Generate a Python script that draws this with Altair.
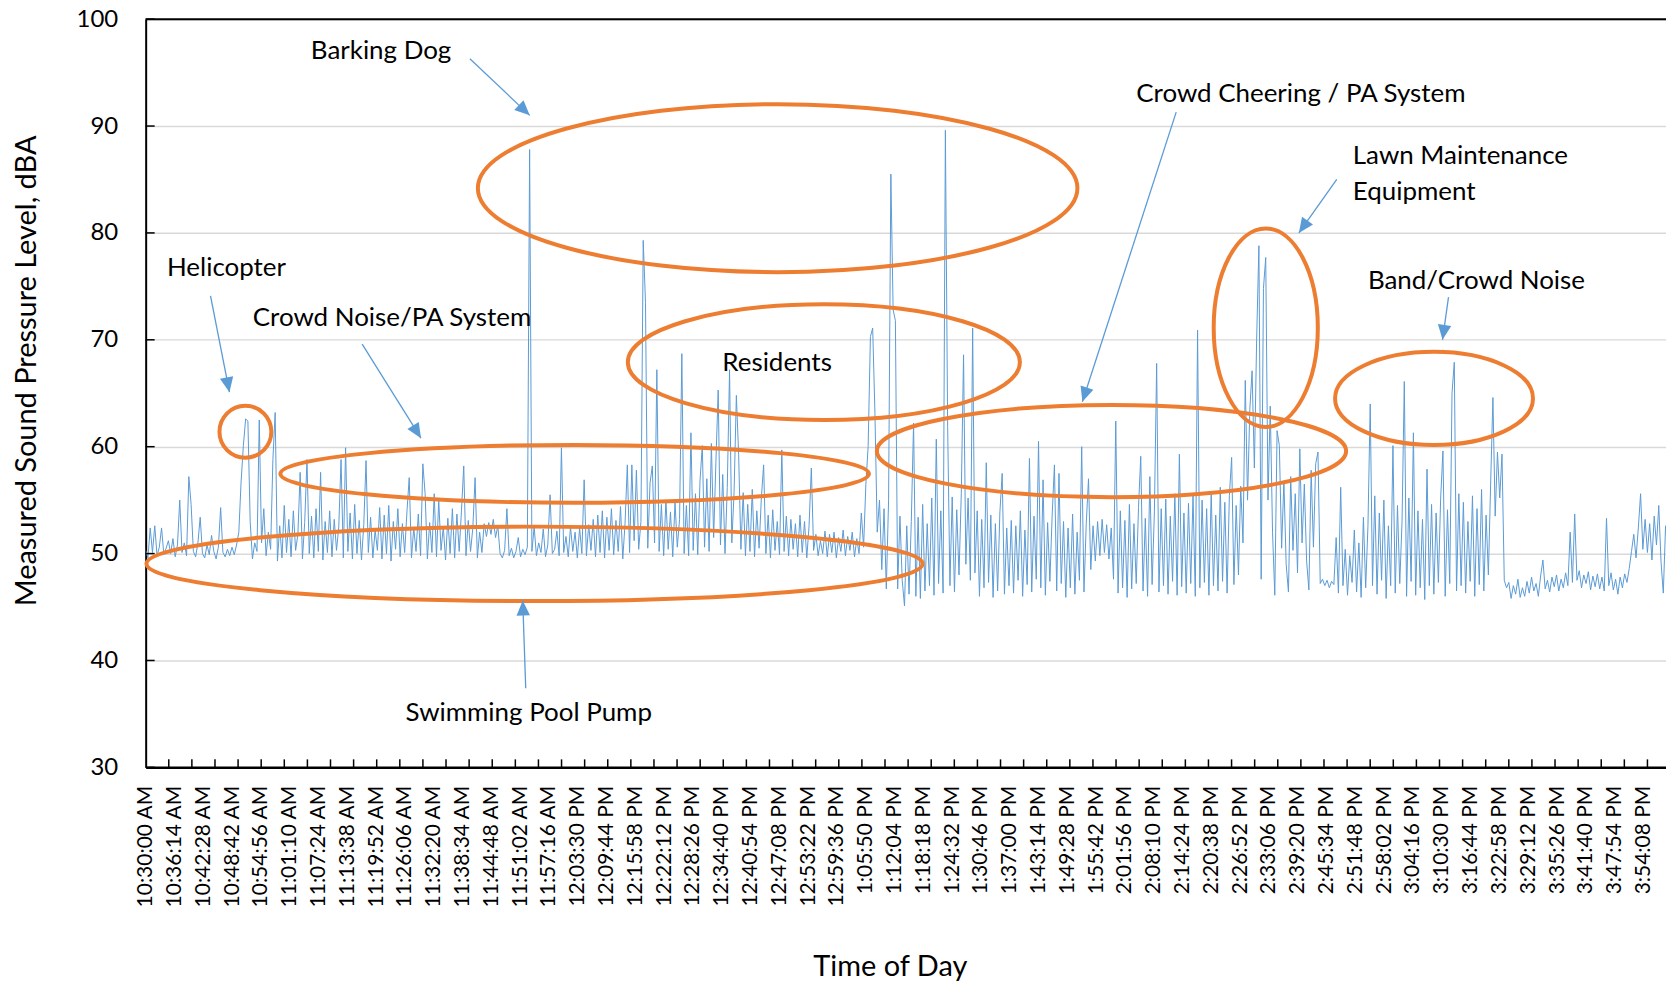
import math
import altair as alt
import pandas as pd

# ---------------- data: one reading every ~30 s, starting 10:30:00 AM ----------------
SAMPLE_STEP_S = 29.5
b1030 = [50.3, 49.6, 52.4, 50.1, 52.6, 49.8, 50.6, 52.4, 49.9, 50.5, 51.2, 50.0, 51.4, 49.7, 50.8, 55.0, 50.1, 51.0, 49.8, 57.2]
b1040 = [54.6, 50.2, 49.7, 51.0, 53.4, 50.0, 49.6, 50.8, 49.9, 51.7, 50.2, 49.5, 50.6, 54.3, 50.1, 49.7, 50.4, 49.8, 50.6, 49.9]
b1050 = [50.8, 52.0, 56.7, 60.1, 62.6, 62.4, 53.0, 49.5, 51.0, 50.2, 62.5, 51.0, 54.2, 49.8, 52.0, 50.4, 58.8, 63.2, 49.3, 52.6]
b1100 = [49.6, 54.5, 50.1, 53.2, 49.7, 54.0, 50.3, 51.8, 57.6, 49.5, 52.9, 58.8, 50.0, 53.5, 49.6, 54.2, 50.2, 57.6, 49.4, 53.0]
b1110 = [50.1, 54.0, 49.7, 53.2, 50.3, 52.5, 58.8, 49.6, 59.9, 50.2, 53.8, 49.5, 54.6, 50.0, 53.1, 49.4, 52.7, 58.7, 50.1, 53.4]
b1120 = [49.6, 52.2, 50.3, 54.3, 49.5, 53.6, 50.0, 54.5, 49.3, 53.0, 50.4, 54.2, 49.7, 52.8, 50.1, 53.9, 57.1, 49.6, 52.4, 50.2]
b1130 = [53.7, 49.8, 58.4, 55.6, 49.5, 52.9, 50.1, 55.6, 49.7, 55.0, 50.3, 52.5, 49.4, 53.3, 50.0, 54.2, 49.6, 53.7, 50.2, 54.0]
b1140 = [58.2, 49.8, 53.1, 50.2, 52.4, 57.1, 49.6, 52.0, 50.1, 52.8, 51.6, 52.9, 51.8, 53.2, 51.5, 52.6, 50.0, 49.6, 50.3, 54.2]
b1150 = [49.8, 50.5, 49.6, 50.2, 51.5, 49.7, 50.4, 49.9, 50.6, 87.8, 50.2, 52.5, 49.8, 51.0, 50.1, 52.3, 49.7, 50.8, 55.5, 50.0]
b1200 = [50.4, 52.1, 49.8, 59.9, 50.1, 51.6, 49.7, 52.5, 50.2, 52.0, 49.6, 52.4, 50.0, 56.9, 49.8, 52.7, 50.3, 53.2, 49.7, 53.6]
b1210 = [50.1, 54.0, 49.6, 53.4, 50.3, 54.2, 49.9, 53.1, 50.2, 54.4, 49.5, 52.8, 58.3, 50.1, 58.3, 51.2, 57.8, 50.4, 53.0, 79.3]
b1220 = [73.5, 50.5, 56.6, 58.2, 51.0, 67.2, 50.2, 54.6, 49.8, 55.0, 50.4, 53.9, 49.7, 54.8, 50.6, 53.2, 68.7, 50.0, 54.5, 49.8]
b1230 = [61.3, 50.3, 55.6, 49.9, 56.8, 60.1, 50.6, 57.0, 50.2, 60.3, 51.5, 58.6, 65.3, 50.8, 57.4, 50.0, 56.2, 67.2, 51.0, 55.8]
b1240 = [64.8, 59.3, 50.4, 55.7, 49.8, 54.6, 50.2, 56.0, 49.7, 54.0, 50.5, 55.2, 58.3, 50.0, 53.6, 49.6, 54.1, 50.3, 53.0, 49.9]
b1250 = [59.7, 50.2, 53.5, 49.8, 53.2, 50.4, 52.8, 49.7, 53.6, 50.1, 53.0, 49.6, 52.6, 58.0, 50.3, 51.8, 49.8, 51.2, 50.0, 52.1]
b1300 = [49.7, 51.8, 50.1, 52.0, 49.6, 51.5, 50.2, 52.2, 49.8, 51.6, 50.3, 52.0, 49.7, 51.4, 50.0, 53.8, 50.6, 56.5, 60.0, 70.3]
b1310 = [71.1, 63.1, 52.0, 55.0, 48.5, 54.2, 46.7, 55.0, 85.5, 72.8, 71.8, 46.7, 53.5, 47.5, 45.1, 52.6, 46.2, 53.0, 62.2, 46.0]
b1320 = [53.4, 45.8, 54.6, 46.5, 52.8, 47.0, 55.2, 46.1, 60.7, 47.2, 54.0, 46.3, 89.6, 61.9, 47.0, 55.3, 46.4, 54.1, 48.0, 55.6]
b1330 = [68.6, 49.0, 55.2, 47.5, 71.1, 48.2, 54.0, 46.0, 53.2, 46.8, 58.5, 47.3, 53.6, 45.9, 52.8, 46.5, 53.9, 57.5, 46.2, 52.4]
b1340 = [47.0, 53.1, 46.3, 52.6, 47.5, 54.0, 46.0, 52.2, 47.1, 58.9, 46.4, 53.5, 47.6, 60.5, 46.8, 56.9, 46.1, 52.9, 47.4, 53.6]
b1350 = [58.3, 46.5, 57.5, 47.2, 53.0, 45.9, 52.4, 46.8, 53.7, 46.2, 52.0, 47.5, 60.0, 46.4, 52.8, 57.0, 48.5, 52.6, 49.3, 53.0]
b1400 = [49.8, 53.2, 50.1, 52.7, 49.5, 52.4, 47.6, 62.4, 46.3, 54.0, 46.8, 53.1, 45.9, 54.6, 46.7, 52.8, 47.2, 54.3, 59.1, 46.5]
b1410 = [53.3, 46.0, 57.2, 47.1, 53.9, 67.8, 46.4, 54.2, 47.0, 55.1, 46.2, 53.5, 47.4, 55.6, 46.1, 59.3, 46.9, 53.8, 46.3, 54.7]
b1420 = [47.2, 55.4, 46.0, 70.9, 46.8, 55.0, 47.3, 54.2, 46.1, 55.8, 47.0, 53.6, 46.5, 56.2, 47.4, 54.8, 46.3, 55.4, 59.0, 47.1]
b1430 = [54.5, 48.0, 56.3, 51.0, 66.2, 55.0, 63.5, 67.1, 58.0, 70.0, 78.8, 47.6, 74.8, 77.7, 55.0, 63.8, 52.0, 46.1, 61.5, 60.1]
b1440 = [50.5, 56.8, 49.0, 46.4, 57.2, 50.3, 55.6, 48.2, 59.8, 51.0, 56.5, 49.3, 46.6, 57.8, 50.6, 58.4, 59.5, 47.2, 47.6, 47.0]
b1450 = [47.5, 46.8, 47.4, 47.1, 51.5, 46.3, 56.2, 47.0, 50.4, 46.1, 49.8, 47.3, 52.2, 46.4, 51.0, 45.9, 53.4, 46.8, 52.6, 64.0]
b1500 = [47.0, 55.4, 46.2, 53.8, 47.5, 55.0, 45.8, 52.6, 47.0, 60.1, 46.3, 54.5, 47.2, 53.0, 66.1, 46.0, 55.2, 47.4, 61.3, 46.1]
b1510 = [54.0, 46.8, 53.2, 45.7, 57.9, 47.0, 54.6, 46.2, 53.8, 47.3, 55.2, 59.6, 46.0, 54.1, 47.2, 65.0, 67.9, 46.5, 55.6, 47.0]
b1520 = [54.8, 46.3, 53.0, 47.4, 55.4, 46.0, 54.2, 47.1, 56.0, 46.5, 53.6, 48.0, 56.5, 64.6, 53.5, 59.5, 55.2, 59.3, 47.5, 46.8]
b1530 = [47.3, 45.8, 47.0, 46.2, 47.6, 45.9, 46.8, 46.0, 47.4, 46.3, 47.8, 46.5, 47.2, 46.0, 47.9, 49.4, 46.7, 47.5, 46.4, 47.8]
b1540 = [46.9, 48.0, 46.5, 47.6, 46.8, 48.2, 47.0, 52.0, 47.3, 53.7, 47.5, 48.4, 46.8, 48.0, 47.2, 48.3, 46.6, 47.9, 46.9, 48.1]
b1550 = [46.7, 47.8, 46.5, 53.3, 47.0, 48.2, 46.6, 47.6, 46.2, 47.8, 46.8, 48.1, 47.3, 48.6, 50.2, 51.8, 49.6, 52.4, 55.6, 50.4]
b1600 = [53.2, 50.1, 52.8, 49.4, 53.5, 50.8, 54.5, 49.2, 46.3, 52.6, 50.0, 52.4]

blocks = [b1030, b1040, b1050, b1100, b1110, b1120, b1130, b1140, b1150, b1200,
          b1210, b1220, b1230, b1240, b1250, b1300, b1310, b1320, b1330, b1340,
          b1350, b1400, b1410, b1420, b1430, b1440, b1450, b1500, b1510, b1520,
          b1530, b1540, b1550, b1600]
levels = [v for b in blocks for v in b]
times = [i * SAMPLE_STEP_S for i in range(len(levels))]
series = pd.DataFrame({"t": times, "dba": levels})

# axis structure (seconds after 10:30:00 AM)
label_times = list(range(0, 19449, 374))
tick_times = list(range(300, 19741, 300))
y_ticks = [30, 40, 50, 60, 70, 80, 90, 100]

# annotations (seconds after 10:30, dBA)
note_text = ["Barking Dog", "Helicopter", "Crowd Noise/PA System", "Residents",
             "Swimming Pool Pump", "Crowd Cheering / PA System", "Band/Crowd Noise"]
note_t = [3057, 1049, 3199, 8199, 4974, 15000, 17280]
note_db = [97.0, 76.7, 72.0, 67.8, 35.1, 93.0, 75.5]

left_text = ["Lawn Maintenance", "Equipment"]
left_t = [15674, 15674]
left_db = [87.2, 83.8]

arrow_t1 = [4210, 842, 2811, 4935, 13381, 15466, 16917]
arrow_db1 = [96.3, 74.1, 69.6, 37.4, 91.3, 85.0, 74.0]
arrow_t2 = [4987, 1088, 3575, 4896, 12163, 14974, 16839]
arrow_db2 = [91.0, 65.1, 60.8, 45.6, 64.2, 80.0, 70.0]

ell_t = [1295, 5570, 5049, 8206, 8806, 12541, 14544, 16729]
ell_db = [61.4, 57.46, 49.04, 84.19, 67.91, 59.59, 71.13, 64.52]
ell_rx = [26, 295, 389, 300.5, 196.5, 235.2, 52.2, 99.2]
ell_ry = [26, 29, 37.3, 84.2, 58, 46.2, 99.5, 46.7]

# ---------------- layout ----------------
T_MAX = 19741
PLOT_W, PLOT_H = 1524, 750
PX_PER_S = PLOT_W / T_MAX
PX_PER_DB = PLOT_H / 70.0
FONT = "Lato"
BLUE = "#5B9BD5"
ORANGE = "#ED7D31"

x_scale = alt.Scale(domain=[0, T_MAX], nice=False, zero=False)
y_scale = alt.Scale(domain=[30, 100], nice=False, zero=False)

x_axis = alt.Axis(
    values=label_times,
    labelExpr="utcFormat(datum.value * 1000 + 37800000, '%-I:%M:%S %p')",
    labelAngle=270, labelFont=FONT, labelFontSize=21, labelColor="black",
    labelPadding=18, labelOverlap=False, labelFlush=False,
    ticks=False, tickSize=0, grid=False,
    domainColor="black", domainWidth=2.5,
    title="Time of Day", titleFont=FONT, titleFontSize=29, titleFontWeight="normal",
    titleColor="black", titleX=746, titleY=200, titleAlign="center", titleBaseline="middle",
)
y_axis = alt.Axis(
    values=y_ticks, labelFont=FONT, labelFontSize=24, labelColor="black",
    labelPadding=28, ticks=False, tickSize=0,
    grid=True, gridColor="#D9D9D9", gridWidth=1.5,
    domainColor="black", domainWidth=2,
    title="Measured Sound Pressure Level, dBA", titleFont=FONT, titleFontSize=29,
    titleFontWeight="normal", titleColor="black", titleX=-119, titleY=352,
    titleAngle=270, titleAlign="center", titleBaseline="middle",
)

X = lambda f="t": alt.X(f"{f}:Q", scale=x_scale, axis=x_axis)
Y = lambda f="dba": alt.Y(f"{f}:Q", scale=y_scale, axis=y_axis)

line = alt.Chart(series).mark_line(color=BLUE, strokeWidth=1, clip=True).encode(x=X(), y=Y())

top_rule = alt.Chart(pd.DataFrame({"dba": [100]})).mark_rule(color="black", strokeWidth=2).encode(y=Y())

xticks = alt.Chart(pd.DataFrame({"t": tick_times})).mark_rule(color="black", strokeWidth=1.5).encode(
    x=X(), y=alt.value(PLOT_H), y2=alt.value(PLOT_H - 8))
yticks = alt.Chart(pd.DataFrame({"dba": y_ticks})).mark_rule(color="black", strokeWidth=1.5).encode(
    y=Y(), x=alt.value(0), x2=alt.value(9))


def ellipse_path(rx, ry):
    if rx >= ry:
        k = ry / rx
        return f"M -1 0 A 1 {k:.4f} 0 1 1 1 0 A 1 {k:.4f} 0 1 1 -1 0 Z", (2 * rx) ** 2
    k = rx / ry
    return f"M 0 -1 A {k:.4f} 1 0 1 1 0 1 A {k:.4f} 1 0 1 1 0 -1 Z", (2 * ry) ** 2


paths, sizes = zip(*[ellipse_path(a, b) for a, b in zip(ell_rx, ell_ry)])
ell_df = pd.DataFrame({"t": ell_t, "dba": ell_db, "path": list(paths), "size": list(sizes)})
ellipses = alt.Chart(ell_df).mark_point(filled=False, stroke=ORANGE, strokeWidth=4, opacity=1).encode(
    x=X(), y=Y(), shape=alt.Shape("path:N", scale=None, legend=None),
    size=alt.Size("size:Q", scale=None, legend=None))

angles = []
for a, b, c, d in zip(arrow_t1, arrow_db1, arrow_t2, arrow_db2):
    dx = (c - a) * PX_PER_S
    dy = -(d - b) * PX_PER_DB
    angles.append(math.degrees(math.atan2(dx, -dy)) % 360)
arr_df = pd.DataFrame({"t": arrow_t1, "dba": arrow_db1, "t2": arrow_t2, "dba2": arrow_db2, "ang": angles})
arrows = alt.Chart(arr_df).mark_rule(color=BLUE, strokeWidth=1.3).encode(
    x=X(), y=Y(), x2="t2:Q", y2="dba2:Q")
heads = alt.Chart(arr_df).mark_point(filled=True, color=BLUE, opacity=1, strokeWidth=0).encode(
    x=X("t2"), y=Y("dba2"), shape=alt.value("M 0 0 L 0.45 1 L -0.45 1 Z"),
    size=alt.value(900), angle=alt.Angle("ang:Q", scale=None))

notes = alt.Chart(pd.DataFrame({"t": note_t, "dba": note_db, "label": note_text})).mark_text(
    font=FONT, fontSize=26, color="black", align="center", baseline="middle").encode(
    x=X(), y=Y(), text="label:N")
notes_left = alt.Chart(pd.DataFrame({"t": left_t, "dba": left_db, "label": left_text})).mark_text(
    font=FONT, fontSize=26, color="black", align="left", baseline="middle").encode(
    x=X(), y=Y(), text="label:N")

chart = alt.layer(line, top_rule, xticks, yticks, ellipses, arrows, heads, notes, notes_left).properties(
    width=PLOT_W, height=PLOT_H,
    padding={"left": 138, "top": 10, "right": 0, "bottom": 216},
    autosize=alt.AutoSizeParams(type="none"),
    background="white",
).configure_view(stroke=None)

chart.save("out.html", embed_options={"renderer": "svg", "actions": False})
